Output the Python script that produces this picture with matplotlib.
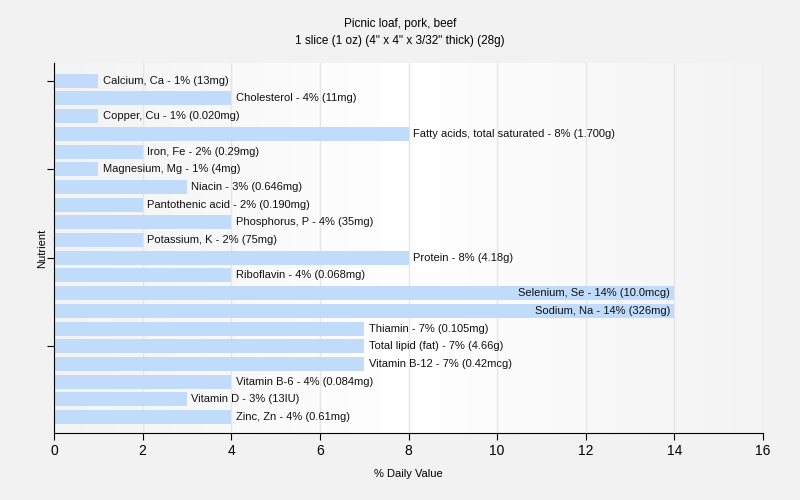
import numpy as np
import matplotlib
matplotlib.use("Agg")
import matplotlib.pyplot as plt
from matplotlib.colors import LinearSegmentedColormap

nutrients = [
    "Calcium, Ca", "Cholesterol", "Copper, Cu", "Fatty acids, total saturated",
    "Iron, Fe", "Magnesium, Mg", "Niacin", "Pantothenic acid", "Phosphorus, P",
    "Potassium, K", "Protein", "Riboflavin", "Selenium, Se", "Sodium, Na",
    "Thiamin", "Total lipid (fat)", "Vitamin B-12", "Vitamin B-6", "Vitamin D",
    "Zinc, Zn",
]
daily_pct = [1, 4, 1, 8, 2, 1, 3, 2, 4, 2, 8, 4, 14, 14, 7, 7, 7, 4, 3, 4]
amounts = [
    "13mg", "11mg", "0.020mg", "1.700g", "0.29mg", "4mg", "0.646mg", "0.190mg",
    "35mg", "75mg", "4.18g", "0.068mg", "10.0mcg", "326mg", "0.105mg", "4.66g",
    "0.42mcg", "0.084mg", "13IU", "0.61mg",
]

plt.rcParams["font.family"] = ["Liberation Sans", "DejaVu Sans"]

fig = plt.figure(figsize=(8, 5), dpi=100, facecolor="#f2f2f2")
ax = fig.add_axes([0.0675, 0.134, 0.8863, 0.74])

# soft background gradient in the plot area
bg = LinearSegmentedColormap.from_list("bg", ["#f3f3f3", "#ffffff", "#f3f3f3"])
ax.imshow(np.linspace(0, 1, 256)[None, :], cmap=bg, aspect="auto",
          extent=(0, 16, 19.9, -1.0), zorder=0)

y = np.arange(len(nutrients))
ax.barh(y, daily_pct, height=0.79, color="#c0dcfa", zorder=2)

for i, (name, v, amt) in enumerate(zip(nutrients, daily_pct, amounts)):
    label = f"{name} - {v}% ({amt})"
    if v >= 12:
        ax.text(v - 0.1, i, label, ha="right", va="center", fontsize=8,
                color="#111111", zorder=3)
    else:
        ax.text(v + 0.1, i, label, ha="left", va="center", fontsize=8,
                color="#111111", zorder=3)

ax.set_xlim(0, 16)
ax.set_ylim(19.9, -1.0)
ax.set_xticks(range(0, 17, 2))
ax.set_yticks([0, 5, 10, 15])
ax.set_yticklabels([])
ax.grid(axis="x", color="#e6e6e6", linewidth=1, zorder=1)
ax.set_axisbelow(True)

for s in ["top", "right"]:
    ax.spines[s].set_visible(False)
ax.tick_params(axis="x", labelsize=10, length=5, pad=3)
ax.tick_params(axis="y", length=5)

ax.set_xlabel("% Daily Value", fontsize=8, labelpad=8)
ax.set_ylabel("Nutrient", fontsize=8)
ax.yaxis.set_label_coords(-0.01, 0.5)

fig.text(0.5, 0.952, "Picnic loaf, pork, beef", ha="center", va="center",
         fontsize=8.5)
fig.text(0.5, 0.918, '1 slice (1 oz) (4" x 4" x 3/32" thick) (28g)', ha="center",
         va="center", fontsize=8.5)

fig.savefig("out.png", dpi=100, facecolor=fig.get_facecolor())
